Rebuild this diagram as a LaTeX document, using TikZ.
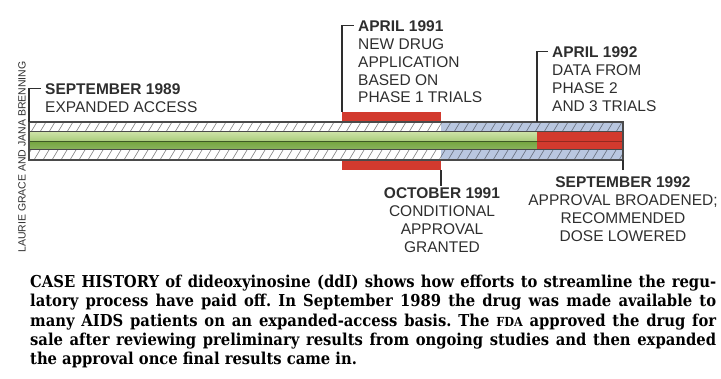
\documentclass[tikz,border=0pt]{standalone}
\usepackage{fontspec}
\setmainfont{DejaVu Serif Condensed}
\newfontfamily\labelfont{Liberation Sans}
\usetikzlibrary{positioning}

\definecolor{barred}{HTML}{D23A2E}
\definecolor{barblue}{HTML}{B9C7E0}
\definecolor{paleleaf}{HTML}{CDE2A6}
\definecolor{softleaf}{HTML}{A9CC7C}
\definecolor{midleaf}{HTML}{78A844}
\definecolor{darkleaf}{HTML}{3E5A24}
\definecolor{rim}{HTML}{4A4A4A}
\definecolor{ink}{HTML}{2E2E2E}

\begin{document}
\begin{tikzpicture}[x=1pt,y=-1pt,
    date/.style={font=\labelfont\bfseries\fontsize{15.5}{17.7}\selectfont,
      text=ink, inner xsep=4pt, inner ysep=0pt,
      text height=15.5pt, text depth=2.2pt},
    desc/.style={font=\labelfont\fontsize{15.5}{17.7}\selectfont,
      text=ink, inner xsep=4pt, inner ysep=0pt},
    lead/.style={draw=ink, line width=1.2pt},
    hatch/.style={line width=0.6pt}]
  \useasboundingbox (0,0) rectangle (721,379);

  % the bar
  \fill[barred] (342,112) rectangle (441,170);
  \fill[white] (29,122) rectangle (441,160);
  \fill[barblue] (441,122) rectangle (623,160);
  \begin{scope}
    \clip (29,122) rectangle (441,132) (29,150) rectangle (441,160);
    \foreach \x in {22,31,...,450} {
      \draw[hatch, draw=gray] (\x,132) -- ++(6,-10);
      \draw[hatch, draw=gray] (\x+3,160) -- ++(6,-10);
    }
  \end{scope}
  \begin{scope}
    \clip (441,122) rectangle (623,132) (441,150) rectangle (623,160);
    \foreach \x in {436,445,...,630} {
      \draw[hatch, draw=barblue!55!black] (\x,132) -- ++(6,-10);
      \draw[hatch, draw=barblue!55!black] (\x+3,160) -- ++(6,-10);
    }
  \end{scope}
  \shade[top color=paleleaf, bottom color=softleaf] (29,132) rectangle (537,141);
  \shade[top color=midleaf, bottom color=midleaf!85!white] (29,142.5) rectangle (537,150);
  \fill[darkleaf] (29,141) rectangle (537,142.5);
  \fill[barred] (537,132) rectangle (623,150);
  \fill[barred!70!black] (537,141) rectangle (623,142.5);
  \draw[rim, line width=1.3pt] (29,122) rectangle (623,160);
  \draw[rim, line width=1pt] (29,132) -- (623,132) (29,150) -- (623,150);

  \coordinate (b89) at (29,122);
  \coordinate (b91a) at (342,112);
  \coordinate (b91b) at (441,170);
  \coordinate (b92a) at (537,122);
  \coordinate (b92b) at (623,160);

  % labels above
  \node[date, anchor=base west] (d89) at (41,95) {SEPTEMBER 1989};
  \node[desc, below=4.4pt of d89.south west, anchor=north west] (n89) {EXPANDED ACCESS};
  \draw[lead] (b89) |- (d89.west);

  \node[date, anchor=base west] (d91) at (354,32) {APRIL 1991};
  \node[desc, align=left, below=4.4pt of d91.south west, anchor=north west] (n91)
    {NEW DRUG\\APPLICATION\\BASED ON\\PHASE 1 TRIALS};
  \draw[lead] (b91a) |- (d91.west);

  \node[date, anchor=base west] (d92) at (548,58) {APRIL 1992};
  \node[desc, align=left, below=4.4pt of d92.south west, anchor=north west] (n92)
    {DATA FROM\\PHASE 2\\AND 3 TRIALS};
  \draw[lead] (b92a) |- (d92.west);

  % labels below
  \node[date, anchor=base] (doct) at (442,199) {OCTOBER 1991};
  \node[desc, align=center, below=4.4pt of doct.south, anchor=north] (noct)
    {CONDITIONAL\\APPROVAL\\GRANTED};
  \draw[lead, shorten >=-3pt] (b91b) -- (b91b |- doct.north);

  \node[date, anchor=base] (d92b) at (623,188) {SEPTEMBER 1992};
  \node[desc, align=center, below=4.4pt of d92b.south, anchor=north] (n92b)
    {APPROVAL BROADENED;\\RECOMMENDED\\DOSE LOWERED};
  \draw[lead, shorten >=2pt] (b92b) -- (b92b |- d92b.north);

  \node[rotate=90, text=ink, font=\labelfont\fontsize{10.5}{12}\selectfont]
    (credit) at (22,157) {LAURIE GRACE AND JANA BRENNING};

  \node[anchor=north west, inner sep=0pt, text width=686pt, align=justify,
    font=\frenchspacing\bfseries\fontsize{16.4}{19.3}\selectfont] (caption) at (30,275)
    {CASE HISTORY of dideoxyinosine (ddI) shows how efforts to streamline the regu-\linebreak
     latory process have paid off. In September 1989 the drug was made available to\linebreak
     many AIDS patients on an expanded-access basis. The {\fontsize{12.5}{12}\selectfont FDA} approved the drug for\linebreak
     sale after reviewing preliminary results from ongoing studies and then expanded\linebreak
     the approval once final results came in.};
\end{tikzpicture}
\end{document}
